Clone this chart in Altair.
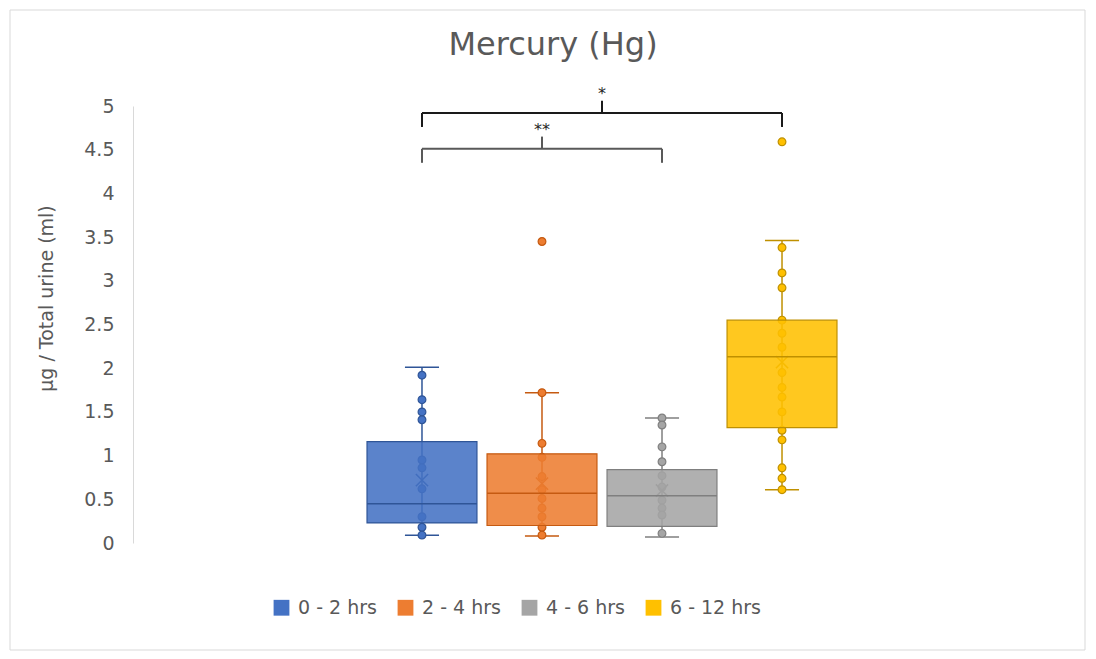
import altair as alt
import pandas as pd

# ---- data ----
groups = ["0 - 2 hrs", "2 - 4 hrs", "4 - 6 hrs", "6 - 12 hrs"]
fill_colors = ["#4472C4", "#ED7D31", "#A5A5A5", "#FFC000"]
edge_colors = ["#2F5597", "#C55A11", "#7F7F7F", "#BF9000"]

whisker_low = [0.09, 0.08, 0.07, 0.61]
q1 = [0.23, 0.20, 0.19, 1.32]
median = [0.45, 0.57, 0.54, 2.13]
q3 = [1.16, 1.02, 0.84, 2.55]
whisker_high = [2.01, 1.72, 1.43, 3.46]
mean = [0.72, 0.68, 0.60, 2.07]

pts_0_2 = [1.92, 1.64, 1.50, 1.41, 0.95, 0.86, 0.62, 0.30, 0.18, 0.09]
pts_2_4 = [3.45, 1.72, 1.14, 0.98, 0.76, 0.61, 0.51, 0.40, 0.30, 0.18, 0.09]
pts_4_6 = [1.43, 1.35, 1.10, 0.93, 0.77, 0.64, 0.49, 0.40, 0.32, 0.11]
pts_6_12 = [4.59, 3.38, 3.09, 2.92, 2.55, 2.40, 2.24, 1.95, 1.78, 1.67,
            1.50, 1.29, 1.18, 0.86, 0.74, 0.61]

y_ticks = [0, 0.5, 1, 1.5, 2, 2.5, 3, 3.5, 4, 4.5, 5]

sig_from = ["0 - 2 hrs", "0 - 2 hrs"]
sig_to = ["4 - 6 hrs", "6 - 12 hrs"]
sig_level = [4.51, 4.92]
sig_label = ["**", "*"]
sig_color = ["#595959", "#1A1A1A"]

FONT = "DejaVu Sans"
TXT = "#595959"

# ---- tables ----
idx = {g: i for i, g in enumerate(groups)}
half_box = 0.458
half_cap = 0.142

box_df = pd.DataFrame({
    "group": groups,
    "i": [idx[g] for g in groups],
    "lo": whisker_low, "q1": q1, "med": median, "q3": q3,
    "hi": whisker_high, "mean": mean,
})
box_df["left"] = box_df["i"] - half_box
box_df["right"] = box_df["i"] + half_box
box_df["cl"] = box_df["i"] - half_cap
box_df["cr"] = box_df["i"] + half_cap

rows = []
for g, vals in zip(groups, [pts_0_2, pts_2_4, pts_4_6, pts_6_12]):
    for v in vals:
        rows.append({"group": g, "i": idx[g], "value": v})
pts_df = pd.DataFrame(rows)

seg = []
txt = []
for a, b, lvl, lab, col in zip(sig_from, sig_to, sig_level, sig_label, sig_color):
    i0, i1 = idx[a], idx[b]
    mid = (i0 + i1) / 2
    seg += [
        {"x": i0, "x2": i1, "y": lvl, "y2": lvl, "c": col},
        {"x": i0, "x2": i0, "y": lvl - 0.16, "y2": lvl, "c": col},
        {"x": i1, "x2": i1, "y": lvl - 0.16, "y2": lvl, "c": col},
        {"x": mid, "x2": mid, "y": lvl, "y2": lvl + 0.14, "c": col},
    ]
    txt.append({"x": mid, "y": lvl + 0.22, "t": lab})
seg_df = pd.DataFrame(seg)
txt_df = pd.DataFrame(txt)

xs = alt.Scale(domain=[-2.408, 5.408], nice=False, zero=False)
ys = alt.Scale(domain=[0, 5], nice=False)
fill_s = alt.Scale(domain=groups, range=fill_colors)
edge_s = alt.Scale(domain=groups, range=edge_colors)

X = lambda f: alt.X(f"{f}:Q", scale=xs, axis=None)

yaxis = alt.Axis(values=y_ticks, format="~g", grid=False, ticks=False,
                 domainColor="#D9D9D9", labelFont=FONT, labelFontSize=19,
                 labelColor=TXT, labelPadding=19, title="µg / Total urine (ml)",
                 titleFont=FONT, titleFontSize=19, titleFontWeight="normal",
                 titleColor=TXT, titlePadding=27, titleY=192)

legend = alt.Legend(orient="none", legendX=139, legendY=492,
                    direction="horizontal", symbolType="square",
                    symbolSize=250, symbolStrokeWidth=1, symbolOpacity=1,
                    labelFont=FONT, labelFontSize=19,
                    labelColor=TXT, labelOffset=7,
                    columnPadding=19, padding=0)

base_box = alt.Chart(box_df)

frame = alt.Chart(box_df).mark_rect(fill=None, stroke="#D9D9D9", strokeWidth=1).encode(
    x=alt.value(-123), x2=alt.value(952), y=alt.value(-96), y2=alt.value(544)
).transform_filter("datum.i == 0")

box = base_box.mark_bar(fillOpacity=0.88, strokeWidth=1.2).encode(
    x=X("left"), x2="right:Q", y=alt.Y("q1:Q", scale=ys, axis=yaxis), y2="q3:Q",
    fill=alt.Fill("group:N", scale=fill_s, title=None, sort=groups, legend=legend),
    stroke=alt.Stroke("group:N", scale=edge_s, legend=None))

whisk = base_box.mark_rule(strokeWidth=1.5).encode(
    x=X("i"), y=alt.Y("lo:Q", scale=ys), y2="hi:Q",
    stroke=alt.Stroke("group:N", scale=edge_s, legend=None))

cap_hi = base_box.mark_rule(strokeWidth=1.5).encode(
    x=X("cl"), x2="cr:Q", y=alt.Y("hi:Q", scale=ys),
    stroke=alt.Stroke("group:N", scale=edge_s, legend=None))
cap_lo = base_box.mark_rule(strokeWidth=1.5).encode(
    x=X("cl"), x2="cr:Q", y=alt.Y("lo:Q", scale=ys),
    stroke=alt.Stroke("group:N", scale=edge_s, legend=None))

points = alt.Chart(pts_df).mark_point(filled=True, size=60, strokeWidth=1.2,
                                      opacity=1).encode(
    x=X("i"), y=alt.Y("value:Q", scale=ys),
    fill=alt.Fill("group:N", scale=fill_s),
    stroke=alt.Stroke("group:N", scale=edge_s, legend=None))

mean_x = base_box.mark_point(shape="M-1,-1L1,1M-1,1L1,-1", filled=False,
                             size=150, strokeWidth=1.6, opacity=1).encode(
    x=X("i"), y=alt.Y("mean:Q", scale=ys),
    stroke=alt.Stroke("group:N", scale=edge_s, legend=None))

med = base_box.mark_rule(strokeWidth=1.5).encode(
    x=X("left"), x2="right:Q", y=alt.Y("med:Q", scale=ys),
    stroke=alt.Stroke("group:N", scale=edge_s, legend=None))

brackets = alt.Chart(seg_df).mark_rule(strokeWidth=2).encode(
    x=X("x"), x2="x2:Q", y=alt.Y("y:Q", scale=ys), y2="y2:Q",
    stroke=alt.Stroke("c:N", scale=None))

stars = alt.Chart(txt_df).mark_text(font=FONT, fontSize=16, color="#262626").encode(
    x=X("x"), y=alt.Y("y:Q", scale=ys), text="t:N")

chart = alt.layer(
    frame, whisk, cap_hi, cap_lo, points, mean_x, box, med, brackets, stars
).resolve_scale(fill="shared", stroke="independent").properties(
    width=938, height=437,
    autosize=alt.AutoSizeParams(type="none"),
    padding={"left": 125, "top": 98, "right": 17, "bottom": 108},
    title=alt.TitleParams("Mercury (Hg)", font=FONT, fontSize=32,
                          fontWeight="normal", color=TXT, dx=-49, offset=-52),
).configure_view(stroke=None)

chart.save("out.html", embed_options={"renderer": "svg", "actions": False})
